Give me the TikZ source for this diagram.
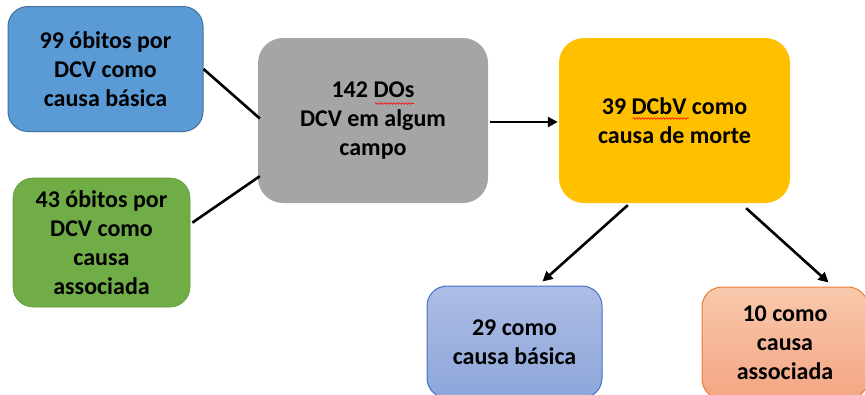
\documentclass[tikz,border=0pt]{standalone}
\usepackage{fontspec}
\setmainfont{Carlito}
\usetikzlibrary{arrows.meta,calc,decorations.pathmorphing}
\definecolor{cblue}{HTML}{5B9BD5}
\definecolor{cblueD}{HTML}{41719C}
\definecolor{cgreen}{HTML}{70AD47}
\definecolor{cgreenD}{HTML}{5F9A3A}
\definecolor{cgray}{HTML}{A5A5A5}
\definecolor{corange}{HTML}{FFC000}
\definecolor{lbTop}{HTML}{AEBDE4}
\definecolor{lbBot}{HTML}{8CA6DA}
\definecolor{lbD}{HTML}{4472C4}
\definecolor{saTop}{HTML}{F8C8AC}
\definecolor{saBot}{HTML}{F4A683}
\definecolor{saD}{HTML}{ED7D31}
\begin{document}
\begin{tikzpicture}[x=1pt,y=-1pt,
  box/.style={rounded corners=20pt, align=center, inner sep=0pt,
    font=\fontsize{24}{28.8}\selectfont\bfseries},
  link/.style={line width=2.6pt, black},
  arr/.style={link, -{Triangle[length=10pt,width=10pt]}},
  squig/.style={draw=red, line width=0.6pt, decorate,
    decoration={snake, segment length=3pt, amplitude=0.8pt}}]
\useasboundingbox (0,0) rectangle (865,394);
\fill[white] (0,0) rectangle (865,394);

\node[box, fill=cblue, draw=cblueD, line width=1pt, minimum width=195pt, minimum height=125pt]
  (blue) at (105.5,69) {99 óbitos por\\DCV como\\causa básica};
\node[box, fill=cgreen, draw=cgreenD, line width=0.6pt, minimum width=177pt, minimum height=129pt]
  (green) at (101.5,242.5) {43 óbitos por\\DCV como\\causa\\associada};
\node[box, rounded corners=25pt, fill=cgray, minimum width=230pt, minimum height=165pt]
  (gray) at (373,120.5) {142 DOs\\DCV em algum\\campo};
\node[box, rounded corners=25pt, fill=corange, minimum width=231pt, minimum height=165pt]
  (orange) at (674.5,120.5) {39 DCbV como\\causa de morte};
\node[box, top color=lbTop, bottom color=lbBot, draw=lbD, line width=1pt, minimum width=175pt, minimum height=112pt]
  (lb) at (514.5,342) {29 como\\causa básica};
\node[box, top color=saTop, bottom color=saBot, draw=saD, line width=1pt, minimum width=166pt, minimum height=112pt]
  (sal) at (785,343) {10 como\\causa\\associada};

% spell-check squiggles
\draw[squig] ($(gray.center)+(2,-17)$) -- ($(gray.center)+(41,-17)$);
\draw[squig] ($(orange.center)+(-42,-2)$) -- ($(orange.center)+(14,-2)$);

% connectors
\draw[link] (blue.east) -- ($(gray.west)+(2,-2)$);
\draw[link] ($(green.north east)+(2,45)$) -- ($(gray.south west)+(2,-27)$);
\draw[arr] ($(gray.east)+(2,1.5)$) -- ($(orange.west)+(-1,1.5)$);
\draw[arr] ($(orange.south west)+(69,2)$) -- ($(lb.north west)+(116,-4)$);
\draw[arr] ($(orange.south east)+(-44,5)$) -- ($(sal.north west)+(127,-4)$);
\end{tikzpicture}
\end{document}
